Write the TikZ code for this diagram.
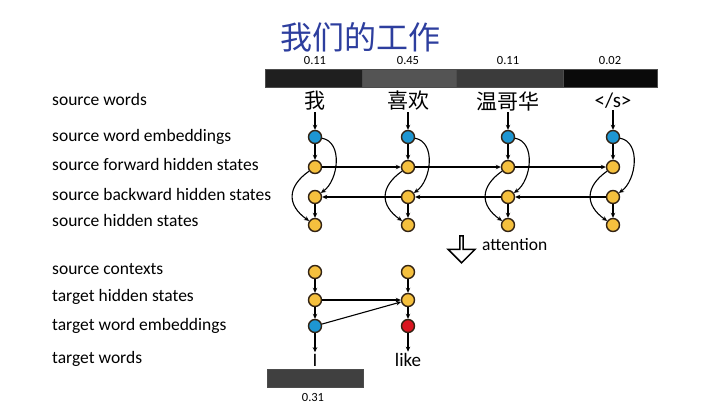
\documentclass[tikz,border=0pt]{standalone}
\usepackage{fontspec}
\setmainfont{Carlito}
\newfontfamily\cjk{Noto Sans CJK SC}
\usetikzlibrary{arrows.meta,shapes.arrows,positioning}
\definecolor{embblue}{RGB}{30,150,210}
\definecolor{hidyellow}{RGB}{245,192,62}
\definecolor{outred}{RGB}{218,22,32}
\definecolor{rim}{RGB}{50,35,20}
\definecolor{titleblue}{RGB}{45,62,158}
\tikzstyle{vertex}=[circle,draw=rim,line width=1.4pt,minimum size=13pt,inner sep=0pt]
\tikzstyle{embvertex}=[vertex,fill=embblue]
\tikzstyle{hidvertex}=[vertex,fill=hidyellow]
\tikzstyle{outvertex}=[vertex,fill=outred]
\tikzstyle{edge}=[draw,line width=1.1pt,-{Stealth[length=5pt,width=4.5pt]}]
\tikzstyle{rowlabel}=[anchor=west,font=\fontsize{17.5}{20}\selectfont,inner sep=0pt,text height=12pt,text depth=4pt]
\tikzstyle{word}=[font=\fontsize{21}{24}\selectfont,inner sep=1.5pt]
\tikzstyle{cell}=[draw=black!70,line width=0.6pt,minimum height=18pt,inner sep=0pt,anchor=west]
\tikzstyle{weight}=[font=\fontsize{12.5}{14}\selectfont,inner sep=0pt]

\begin{document}
\begin{tikzpicture}[x=1pt,y=1pt]
\useasboundingbox (0,0) rectangle (720,-405);

\node[font=\cjk\fontsize{32}{36}\selectfont,text=titleblue] (title) at (360,-37) {我们的工作};

% attention weights over the source words
\foreach \x/\w/\name/\shade/\val in {265/97/a1/black!88/0.11, 362/94/a2/black!67/0.45, 456/107/a3/black!77/0.11, 563/94/a4/black!96/0.02}
  \node[cell,fill=\shade,minimum width=\w] (\name) at (\x,-78) {};
\foreach \x/\val in {315/0.11, 408/0.45, 508/0.11, 610/0.02}
  \node[weight] at (\x,-60) {\val};

% row labels
\foreach \y/\label in {101.7/source words, 137.7/source word embeddings, 166/source forward hidden states, 196/source backward hidden states, 222.7/source hidden states, 270.3/source contexts, 297.7/target hidden states, 326/target word embeddings, 359.3/target words}
  \node[rowlabel] at (52,-\y) {\label};

% encoder columns
\foreach \x/\i/\w in {315/1/{\cjk 我}, 408/2/{\cjk 喜欢}, 508/3/{\cjk 温哥华}, 613/4/{</s>}} {
  \node[word] (w\i) at (\x,-101) {\w};
  \node[embvertex] (e\i) at (\x,-137) {};
  \node[hidvertex] (f\i) at (\x,-167) {};
  \node[hidvertex] (b\i) at (\x,-197) {};
  \node[hidvertex] (h\i) at (\x,-225) {};
  \path[edge] (w\i) -- (e\i);
  \path[edge] (e\i) -- (f\i);
  \path[edge] (b\i) -- (h\i);
  \path[edge] (e\i) to[out=-10,in=35,looseness=1] (b\i);
  \path[edge] (f\i) to[out=215,in=145,looseness=1.4] (h\i);
}

% forward and backward recurrences
\foreach \source/\dest in {f1/f2, f2/f3, f3/f4, b4/b3, b3/b2, b2/b1}
  \path[edge] (\source) -- (\dest);

\node[single arrow,draw=black,fill=white,line width=1.5pt,shape border rotate=270,
  minimum width=27pt,single arrow head extend=5.5pt,minimum height=27pt,inner sep=0pt] (att) at (461.5,-248.5) {};
\node[rowlabel] (attlabel) at (482,-246) {attention};

% decoder
\node[hidvertex] (ctx1) at (315,-272) {};
\node[hidvertex] (ctx2) at (408,-272) {};
\node[hidvertex] (th1) at (315,-300) {};
\node[hidvertex] (th2) at (408,-300) {};
\node[embvertex] (te1) at (315,-326) {};
\node[outvertex] (te2) at (408,-326) {};
\node[word,font=\fontsize{19}{22}\selectfont] (tw1) at (315,-360) {I};
\node[word,font=\fontsize{19}{22}\selectfont] (tw2) at (408,-360) {like};

\foreach \source/\dest in {ctx1/th1, th1/te1, ctx2/th2, th2/te2, th1/th2, te1/th2, te1/tw1, te2/tw2}
  \path[edge] (\source) -- (\dest);

\node[cell,fill=black!75,minimum width=96] (tbar) at (267,-378.5) {};
\node[weight] at (313,-397) {0.31};

\end{tikzpicture}
\end{document}
